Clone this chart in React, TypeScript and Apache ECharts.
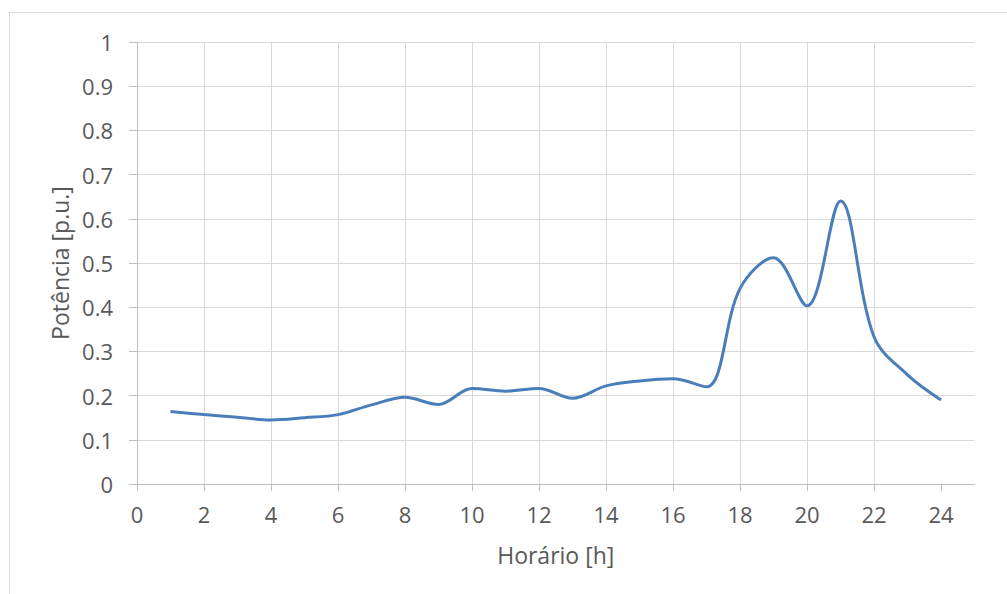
import React, { useEffect, useRef } from "react";
import * as echarts from "echarts";

// Load profile: power in p.u. for each hour of the day
const hours = [1, 2, 3, 4, 5, 6, 7, 8, 9, 10, 11, 12, 13, 14, 15, 16, 17, 18, 19, 20, 21, 22, 23, 24];
const potencia = [
  0.164, 0.157, 0.151, 0.145, 0.15, 0.157, 0.179, 0.196, 0.18, 0.216, 0.21, 0.216,
  0.194, 0.222, 0.233, 0.238, 0.22, 0.442, 0.512, 0.403, 0.64, 0.333, 0.247, 0.19,
];
const xTickValues = [0, 2, 4, 6, 8, 10, 12, 14, 16, 18, 20, 22, 24];

const FONT = "'Open Sans', 'Noto Sans', sans-serif";
const TEXT = "#595959";
const GRID = "#d9d9d9";
const AXIS = "#bfbfbf";

export default function App() {
  const ref = useRef<HTMLDivElement>(null);

  useEffect(() => {
    if (!ref.current) return;
    const chart = echarts.init(ref.current, undefined, { renderer: "svg" });
    chart.setOption({
      animation: false,
      backgroundColor: "#ffffff",
      textStyle: { fontFamily: FONT },
      graphic: [
        {
          type: "rect",
          shape: { x: 9.5, y: 12.5, width: 1200, height: 800 },
          style: { fill: "none", stroke: GRID, lineWidth: 1 },
          silent: true,
        },
      ],
      grid: { left: 137, right: 32.5, top: 42, bottom: 110 },
      xAxis: {
        type: "value",
        min: 0,
        max: 25,
        interval: 2,
        name: "Horário [h]",
        nameLocation: "middle",
        nameGap: 59,
        nameTextStyle: { color: TEXT, fontSize: 23, fontFamily: FONT },
        axisLine: { show: true, onZero: false, lineStyle: { color: AXIS, width: 1 } },
        axisTick: { show: true, length: 7, customValues: xTickValues, lineStyle: { color: AXIS } },
        axisLabel: { color: TEXT, fontSize: 22, margin: 19, customValues: xTickValues, fontFamily: FONT },
        splitLine: { show: true, showMaxLine: false, lineStyle: { color: GRID, width: 1 } },
      },
      yAxis: {
        type: "value",
        min: 0,
        max: 1,
        interval: 0.1,
        name: "Potência [p.u.]",
        nameLocation: "middle",
        nameGap: 66,
        nameRotate: 90,
        nameTextStyle: { color: TEXT, fontSize: 23, fontFamily: FONT },
        axisLine: { show: true, lineStyle: { color: AXIS, width: 1 } },
        axisTick: { show: true, length: 8, lineStyle: { color: AXIS } },
        axisLabel: {
          color: TEXT,
          fontSize: 22,
          margin: 24,
          fontFamily: FONT,
          formatter: (v: number) => String(Math.round(v * 10) / 10),
        },
        splitLine: { show: true, lineStyle: { color: GRID, width: 1 } },
      },
      series: [
        {
          type: "line",
          data: hours.map((h, i) => [h, potencia[i]]),
          smooth: 0.35,
          showSymbol: false,
          lineStyle: { color: "#4a7ebb", width: 3 },
          itemStyle: { color: "#4a7ebb" },
        },
      ],
    });
    return () => chart.dispose();
  }, []);

  return (
    <div
      ref={ref}
      style={{ position: "fixed", left: 0, top: 0, width: 1007, height: 594 }}
    />
  );
}
